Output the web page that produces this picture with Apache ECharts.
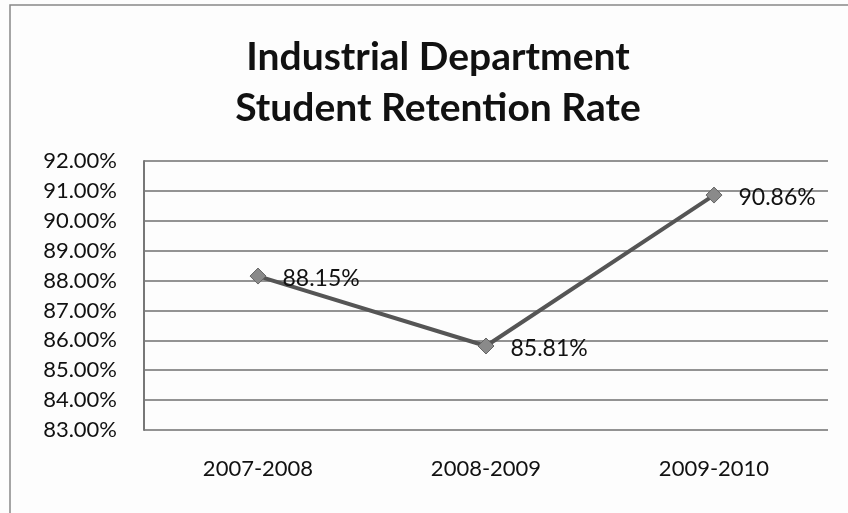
<!DOCTYPE html>
<html>
<head>
<meta charset="utf-8">
<script src="https://cdn.jsdelivr.net/npm/echarts@6/dist/echarts.min.js"></script>
<style>
  html, body { margin: 0; padding: 0; background: #fff; }
  #chart { width: 848px; height: 513px; }
</style>
</head>
<body>
<div id="chart"></div>
<script>
// Retention rate per academic year (percent)
const years = ['2007-2008', '2008-2009', '2009-2010'];
const retention = [88.15, 85.81, 90.86];
const yMin = 83;
const yMax = 92;
const yStep = 1;

const font = 'Lato, "Open Sans", sans-serif';

const chart = echarts.init(document.getElementById('chart'));
chart.setOption({
  backgroundColor: '#fdfdfd',
  animation: false,
  title: {
    text: 'Industrial Department\nStudent Retention Rate',
    left: 433,
    textAlign: 'center',
    top: 27,
    textStyle: {
      fontFamily: font,
      fontSize: 39,
      fontWeight: 'bold',
      color: '#111',
      lineHeight: 51
    }
  },
  graphic: [{
    type: 'rect',
    shape: { x: 10, y: 5, width: 850, height: 520 },
    style: { fill: 'none', stroke: '#888', lineWidth: 1.5 },
    silent: true
  }],
  grid: { left: 144, right: 20, top: 161, bottom: 83, containLabel: false },
  xAxis: {
    type: 'category',
    data: years,
    boundaryGap: true,
    axisLine: { show: false },
    axisTick: { show: false },
    axisLabel: {
      margin: 28,
      fontFamily: font,
      fontSize: 22,
      color: '#111'
    }
  },
  yAxis: {
    type: 'value',
    min: yMin,
    max: yMax,
    interval: yStep,
    axisLine: { show: true, lineStyle: { color: '#777', width: 2 } },
    axisTick: { show: false },
    axisLabel: {
      margin: 27,
      fontFamily: font,
      fontSize: 22,
      color: '#111',
      formatter: v => v.toFixed(2) + '%'
    },
    splitLine: { show: true, lineStyle: { color: '#6f6f6f', width: 1.5 } }
  },
  series: [{
    type: 'line',
    data: retention,
    symbol: 'diamond',
    symbolSize: 16,
    lineStyle: { color: '#555', width: 4 },
    itemStyle: { color: '#8a8a8a', borderColor: '#666', borderWidth: 1 },
    label: {
      show: true,
      position: 'right',
      distance: 16,
      offset: [0, 3],
      fontFamily: font,
      fontSize: 23,
      color: '#111',
      formatter: p => p.value.toFixed(2) + '%'
    },
    z: 3
  }]
});
</script>
</body>
</html>
